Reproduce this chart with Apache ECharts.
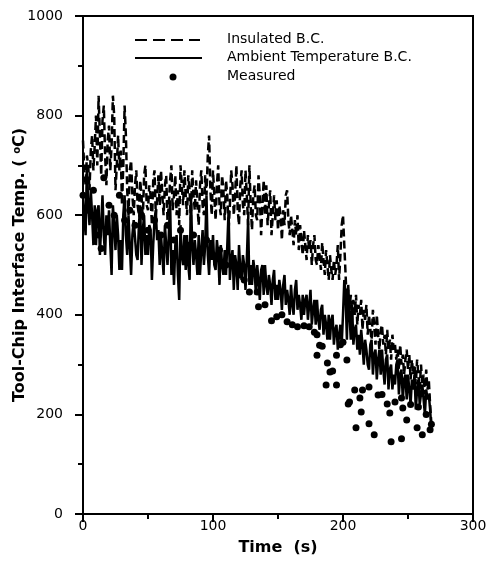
<!DOCTYPE html>
<html>
<head>
<meta charset="utf-8">
<script src="https://cdn.jsdelivr.net/npm/echarts@6/dist/echarts.min.js"></script>
<style>
  html, body { margin: 0; padding: 0; background: #fff; }
  #chart { width: 490px; height: 563px; }
</style>
</head>
<body>
<div id="chart"></div>
<script>
// sample times (s) for the two simulated curves
var simTime = [
  0, 1, 2, 3, 4, 5, 6, 7, 8, 9, 10, 11, 12, 13, 14, 15, 16, 17, 18, 19,
  20, 21, 22, 23, 24, 25, 26, 27, 28, 29, 30, 31, 32, 33, 34, 35, 36, 37, 38, 39,
  40, 41, 42, 43, 44, 45, 46, 47, 48, 49, 50, 51, 52, 53, 54, 55, 56, 57, 58, 59,
  60, 61, 62, 63, 64, 65, 66, 67, 68, 69, 70, 71, 72, 73, 74, 75, 76, 77, 78, 79,
  80, 81, 82, 83, 84, 85, 86, 87, 88, 89, 90, 91, 92, 93, 94, 95, 96, 97, 98, 99,
  100, 101, 102, 103, 104, 105, 106, 107, 108, 109, 110, 111, 112, 113, 114, 115, 116, 117, 118, 119,
  120, 121, 122, 123, 124, 125, 126, 127, 128, 129, 130, 131, 132, 133, 134, 135, 136, 137, 138, 139,
  140, 141, 142, 143, 144, 145, 146, 147, 148, 149, 150, 151, 152, 153, 154, 155, 156, 157, 158, 159,
  160, 161, 162, 163, 164, 165, 166, 167, 168, 169, 170, 171, 172, 173, 174, 175, 176, 177, 178, 179,
  180, 181, 182, 183, 184, 185, 186, 187, 188, 189, 190, 191, 192, 193, 194, 195, 196, 197, 198, 199,
  200, 201, 202, 203, 204, 205, 206, 207, 208, 209, 210, 211, 212, 213, 214, 215, 216, 217, 218, 219,
  220, 221, 222, 223, 224, 225, 226, 227, 228, 229, 230, 231, 232, 233, 234, 235, 236, 237, 238, 239,
  240, 241, 242, 243, 244, 245, 246, 247, 248, 249, 250, 251, 252, 253, 254, 255, 256, 257, 258, 259,
  260, 261, 262, 263, 264, 265, 266, 267, 268
]

// insulated B.C. (dashed), one value per second
var insulatedTemp = [
  750, 690, 660, 720, 700, 650, 730, 760, 690, 740,
  800, 700, 840, 760, 680, 790, 820, 720, 660, 750,
  780, 690, 740, 840, 800, 650, 700, 760, 690, 730,
  620, 700, 820, 760, 650, 600, 690, 710, 640, 600,
  660, 690, 620, 600, 670, 640, 590, 680, 700, 620,
  610, 660, 640, 580, 670, 690, 600, 630, 680, 620,
  690, 640, 600, 660, 680, 590, 620, 670, 700, 610,
  640, 680, 600, 650, 580, 700, 660, 620, 690, 640,
  600, 680, 650, 590, 690, 640, 610, 670, 620, 580,
  660, 690, 620, 600, 680, 640, 720, 760, 650, 600,
  690, 640, 590, 660, 700, 620, 600, 680, 650, 590,
  670, 640, 570, 620, 690, 660, 600, 640, 700, 610,
  580, 660, 690, 620, 600, 690, 640, 580, 700, 620,
  570, 640, 660, 600, 590, 680, 640, 560, 620, 670,
  600, 660, 580, 620, 650, 560, 600, 640, 590, 630,
  570, 620, 600, 550, 610, 580, 640, 650, 590, 560,
  600, 570, 540, 590, 560, 600, 530, 580, 550, 520,
  570, 540, 510, 560, 530, 550, 500, 540, 560, 510,
  500, 540, 520, 490, 545, 510, 480, 530, 500, 470,
  520, 490, 470, 510, 480, 500, 540, 470, 520, 580,
  600, 540, 480, 420, 450, 410, 440, 390, 430, 400,
  440, 380, 420, 400, 430, 370, 410, 390, 420, 360,
  400, 370, 350, 410, 380, 340, 400, 360, 330, 370,
  380, 340, 360, 320, 370, 330, 350, 310, 360, 330,
  340, 310, 330, 290, 340, 300, 320, 280, 310, 330,
  290, 320, 270, 310, 280, 300, 260, 310, 280, 250,
  300, 260, 280, 240, 290, 250, 270, 220, 180
]

// ambient temperature B.C. (solid), one value per second
var ambientTemp = [
  640, 600, 560, 700, 620, 580, 650, 600, 540, 620,
  540, 610, 620, 520, 580, 640, 560, 520, 600, 560,
  610, 540, 480, 620, 580, 530, 600, 560, 490, 550,
  490, 600, 640, 560, 520, 600, 540, 480, 560, 590,
  590, 520, 510, 580, 620, 500, 570, 600, 520, 560,
  520, 580, 570, 470, 540, 590, 610, 550, 570, 500,
  560, 520, 480, 580, 540, 500, 560, 630, 480, 530,
  460, 540, 560, 480, 430, 580, 520, 500, 560, 490,
  560, 500, 470, 640, 540, 500, 550, 520, 480, 560,
  480, 530, 570, 500, 540, 640, 520, 480, 550, 510,
  560, 500, 490, 550, 520, 460, 540, 500, 480, 530,
  480, 540, 610, 470, 510, 530, 450, 520, 500, 450,
  540, 490, 470, 520, 500, 450, 510, 590, 460, 500,
  460, 510, 490, 440, 500, 470, 430, 490, 500, 440,
  500, 460, 440, 480, 460, 420, 470, 490, 430, 460,
  430, 470, 450, 410, 460, 480, 420, 450, 430, 400,
  460, 420, 400, 450, 470, 410, 440, 420, 390, 440,
  400, 430, 440, 390, 420, 450, 380, 410, 430, 380,
  430, 390, 370, 410, 420, 360, 400, 380, 350, 400,
  350, 390, 400, 340, 370, 380, 330, 360, 380, 340,
  400, 470, 440, 350, 460, 400, 350, 420, 340, 370,
  380, 330, 360, 320, 370, 340, 300, 350, 330, 300,
  290, 340, 350, 280, 320, 330, 270, 310, 330, 280,
  330, 290, 260, 310, 320, 250, 290, 300, 250, 280,
  260, 300, 310, 240, 280, 290, 230, 270, 280, 230,
  280, 250, 220, 270, 250, 280, 210, 250, 270, 220,
  220, 260, 230, 200, 250, 230, 240, 210, 170
]

// measured points
var measuredTime = [
  0, 4, 8, 12, 14, 16, 20, 24, 28, 32,
  36, 40, 45, 50, 55, 60, 65, 70, 75, 80,
  85, 90, 95, 100, 105, 110, 115, 120, 124, 128,
  134, 135, 140, 145, 149, 153, 157, 161, 165, 170,
  174, 178, 180, 182, 180, 184, 188, 190, 187, 192,
  195, 195, 198, 200, 203, 204, 205, 209, 210, 213,
  214, 215, 220, 220, 224, 227, 230, 234, 236, 237,
  240, 245, 245, 246, 249, 252, 257, 258, 261, 264,
  267, 268
]
var measuredTemp = [
  640, 610, 650, 560, 533, 675, 620, 600, 640, 590,
  610, 580, 600, 570, 590, 560, 580, 550, 570, 540,
  560, 530, 550, 520, 530, 500, 510, 480, 470, 446,
  446, 416, 420, 388, 396, 400, 386, 380, 376, 378,
  376, 365, 360, 339, 319, 337, 303, 285, 259, 287,
  319, 259, 340, 345, 309, 221, 225, 249, 173, 233,
  205, 249, 181, 255, 159, 239, 240, 221, 203, 145,
  225, 151, 233, 213, 189, 220, 173, 215, 159, 200,
  169, 180
]

var xTicks = { min: 0, max: 300, interval: 100 }
var yTicks = { min: 0, max: 1000, interval: 200 }

function pairs(xs, ys) {
  return xs.map(function (x, i) { return [x, ys[i]] })
}

var font = 'DejaVu Sans'
var chart = echarts.init(document.getElementById('chart'))

chart.setOption({
  animation: false,
  backgroundColor: '#fff',
  grid: {
    left: 83, right: 17, top: 16, bottom: 49,
    outerBoundsMode: 'none',
    containLabel: false,
    show: true, borderColor: '#000', borderWidth: 2
  },
  xAxis: {
    type: 'value',
    min: xTicks.min, max: xTicks.max, interval: xTicks.interval,
    name: 'Time  (s)',
    nameLocation: 'middle',
    nameGap: 26,
    nameMoveOverlap: false,
    nameTextStyle: { fontFamily: font, fontWeight: 'bold', fontSize: 16, color: '#000' },
    axisLine: { lineStyle: { color: '#000', width: 2 } },
    axisTick: { length: 8, lineStyle: { color: '#000', width: 2 } },
    minorTick: { show: true, splitNumber: 2, length: 5, lineStyle: { color: '#000', width: 2 } },
    axisLabel: { margin: 5, fontFamily: font, fontSize: 14, color: '#000' },
    splitLine: { show: false }
  },
  yAxis: {
    type: 'value',
    min: yTicks.min, max: yTicks.max, interval: yTicks.interval,
    name: 'Tool-Chip Interface Temp. ( {sup|o}C)',
    nameLocation: 'middle',
    nameGap: 55,
    nameMoveOverlap: false,
    nameTextStyle: {
      fontFamily: font, fontWeight: 'bold', fontSize: 16, color: '#000',
      rich: { sup: { fontFamily: font, fontWeight: 'bold', fontSize: 10, color: '#000', verticalAlign: 'top' } }
    },
    axisLine: { lineStyle: { color: '#000', width: 2 } },
    axisTick: { length: 8, lineStyle: { color: '#000', width: 2 } },
    minorTick: { show: true, splitNumber: 2, length: 5, lineStyle: { color: '#000', width: 2 } },
    axisLabel: {
      margin: 20, fontFamily: font, fontSize: 14, color: '#000',
      formatter: function (v) { return String(v) }
    },
    splitLine: { show: false }
  },
  series: [
    {
      name: 'Insulated B.C.',
      type: 'line',
      data: pairs(simTime, insulatedTemp),
      showSymbol: false,
      lineStyle: { color: '#000', width: 2.5, type: [8, 4] },
      z: 3
    },
    {
      name: 'Ambient Temperature B.C.',
      type: 'line',
      data: pairs(simTime, ambientTemp),
      showSymbol: false,
      lineStyle: { color: '#000', width: 2.5 },
      z: 3
    },
    {
      name: 'Measured',
      type: 'scatter',
      data: pairs(measuredTime, measuredTemp),
      symbol: 'circle',
      symbolSize: 7,
      itemStyle: { color: '#000', opacity: 1 },
      z: 4
    }
  ],
  graphic: [
    { type: 'line', shape: { x1: 135, y1: 40, x2: 200, y2: 40 }, style: { stroke: '#000', lineWidth: 2, lineDash: [12, 6] } },
    { type: 'line', shape: { x1: 135, y1: 58, x2: 202, y2: 58 }, style: { stroke: '#000', lineWidth: 2 } },
    { type: 'circle', shape: { cx: 173, cy: 77, r: 3.5 }, style: { fill: '#000' } },
    { type: 'text', left: 227, top: 32, style: { text: 'Insulated B.C.', font: '14px "DejaVu Sans"', fill: '#000' } },
    { type: 'text', left: 227, top: 50, style: { text: 'Ambient Temperature B.C.', font: '14px "DejaVu Sans"', fill: '#000' } },
    { type: 'text', left: 227, top: 69, style: { text: 'Measured', font: '14px "DejaVu Sans"', fill: '#000' } }
  ]
})
</script>
</body>
</html>
